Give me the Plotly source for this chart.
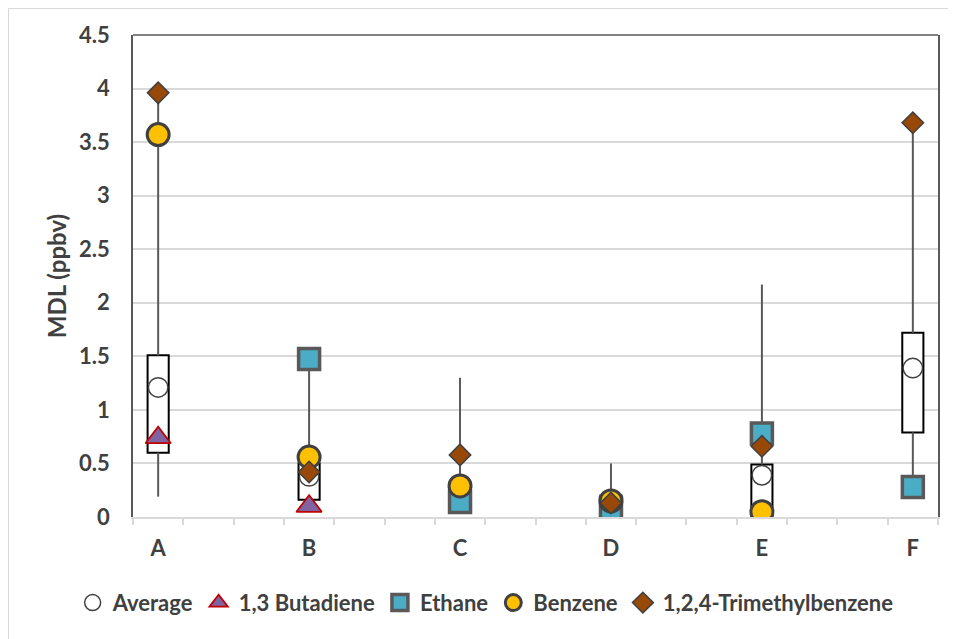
import plotly.graph_objects as go

# ---------------- data ----------------
categories = ["A", "B", "C", "D", "E", "F"]
average = [1.21, 0.38, 0.22, 0.14, 0.39, 1.39]
butadiene = [0.74, 0.10, None, None, 0.02, None]
ethane = [None, 1.475, 0.14, 0.08, 0.78, 0.28]
benzene = [3.57, 0.56, 0.29, 0.15, 0.05, None]
trimethylbenzene = [3.96, 0.42, 0.58, 0.13, 0.66, 3.68]
box_low = [0.60, 0.16, 0.12, 0.08, 0.01, 0.79]
box_high = [1.51, 0.50, 0.30, 0.20, 0.49, 1.72]
whisker_low = [0.19, 0.10, 0.12, 0.05, 0.01, 0.28]
whisker_high = [3.96, 1.48, 1.30, 0.50, 2.17, 3.68]
y_ticks = [0, 0.5, 1, 1.5, 2, 2.5, 3, 3.5, 4, 4.5]
y_tick_text = ["0", "0.5", "1", "1.5", "2", "2.5", "3", "3.5", "4", "4.5"]

FONT = "Lato"
TXT = "#404040"
W, H = 956, 639
ML, MR, MT, MB = 125, 26, 27, 130
idx = list(range(len(categories)))

fig = go.Figure()

# boxes (floating bars)
fig.add_trace(go.Bar(
    x=idx, base=box_low,
    y=[h - l for h, l in zip(box_high, box_low)],
    width=0.14,
    marker=dict(color="white", line=dict(color="#000000", width=2)),
    showlegend=False, hoverinfo="skip",
))

# whiskers: lower and upper segments outside the box
wx, wy = [], []
for i in idx:
    if whisker_low[i] < box_low[i]:
        wx += [i, i, None]
        wy += [whisker_low[i], box_low[i], None]
    if whisker_high[i] > box_high[i]:
        wx += [i, i, None]
        wy += [box_high[i], whisker_high[i], None]
fig.add_trace(go.Scatter(
    x=wx, y=wy, mode="lines",
    line=dict(color="#595959", width=2),
    showlegend=False, hoverinfo="skip",
))

fig.add_trace(go.Scatter(
    x=idx, y=average, mode="markers", name="Average",
    marker=dict(symbol="circle", size=19.5, color="white",
                line=dict(color="#404040", width=1.5)),
))
fig.add_trace(go.Scatter(
    x=idx, y=butadiene, mode="markers", name="1,3 Butadiene",
    marker=dict(symbol="triangle-up", size=22, color="#8064A2",
                line=dict(color="#C00000", width=1.75)),
))
fig.add_trace(go.Scatter(
    x=idx, y=ethane, mode="markers", name="Ethane",
    marker=dict(symbol="square", size=21, color="#4BACC6",
                line=dict(color="#595959", width=3.5)),
))
fig.add_trace(go.Scatter(
    x=idx, y=benzene, mode="markers", name="Benzene",
    marker=dict(symbol="circle", size=22, color="#FFC000",
                line=dict(color="#404040", width=3)),
))
fig.add_trace(go.Scatter(
    x=idx, y=trimethylbenzene, mode="markers", name="1,2,4-Trimethylbenzene",
    marker=dict(symbol="diamond", size=16.5, color="#984807",
                line=dict(color="#404040", width=1.5)),
))

pw, ph = W - ML - MR, H - MT - MB

fig.update_layout(
    width=W, height=H,
    margin=dict(l=ML, r=MR, t=MT, b=MB),
    paper_bgcolor="white", plot_bgcolor="white",
    font=dict(family=FONT, color=TXT, size=22),
    showlegend=True,
    legend=dict(
        orientation="h", xref="paper", yref="paper",
        x=-0.075, xanchor="left", y=-0.178, yanchor="middle",
        font=dict(family=FONT, size=22, color=TXT, weight="bold"),
        itemwidth=30, tracegroupgap=0, bgcolor="rgba(0,0,0,0)",
    ),
    xaxis=dict(
        range=[-1/6, 5 + 1/6],
        tickmode="array", tickvals=idx, ticktext=categories,
        ticks="", showgrid=False, zeroline=False,
        showline=True, linecolor="#D9D9D9", linewidth=1.5,
        tickfont=dict(family=FONT, size=22, color=TXT, weight="bold"),
        ticklabelstandoff=11,
        minor=dict(tick0=-1/6, dtick=1/3, ticks="outside", ticklen=6,
                   tickcolor="#D9D9D9", tickwidth=1.5, showgrid=False),
    ),
    yaxis=dict(
        range=[0, 4.5], tickmode="array", tickvals=y_ticks, ticktext=y_tick_text,
        ticks="", showgrid=True, gridcolor="#D9D9D9", gridwidth=1.5,
        zeroline=False,
        showline=True, mirror=True, linecolor="#595959", linewidth=1.5,
        tickfont=dict(family=FONT, size=22, color=TXT, weight="bold"),
        ticklabelstandoff=17,
        title=dict(text="MDL (ppbv)", standoff=6,
                   font=dict(family=FONT, size=24, color=TXT, weight="bold")),
    ),
    shapes=[
        # plot-area top border
        dict(type="line", xref="x domain", yref="y domain",
             x0=0, x1=1, y0=1, y1=1,
             line=dict(color="#595959", width=1.5), layer="above"),
        # chart-area frame
        dict(type="rect", xref="paper", yref="paper",
             x0=-(ML - 0.5) / pw, x1=1 + (MR - 0.5) / pw,
             y0=-(MB - 0.5) / ph, y1=1 + (MT - 0.5) / ph,
             line=dict(color="#D9D9D9", width=1), layer="below"),
    ],
)

fig.write_html("out.html")
